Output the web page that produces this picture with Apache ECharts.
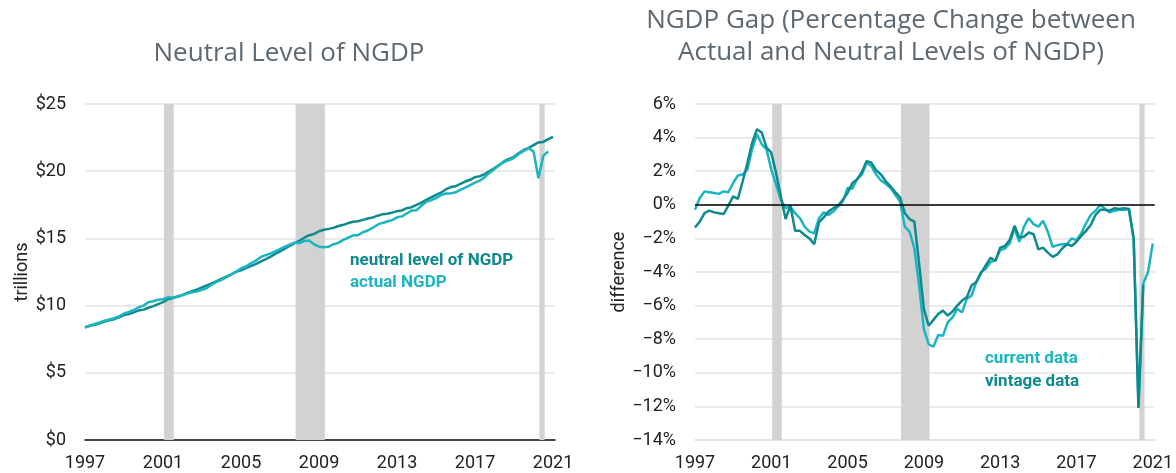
<!DOCTYPE html>
<html><head><meta charset="utf-8">
<script src="https://cdn.jsdelivr.net/npm/echarts@6/dist/echarts.min.js"></script>
<style>html,body{margin:0;padding:0;background:#fff}#c{width:1176px;height:473px}</style>
</head><body><div id="c"></div>
<script>
// ---- data (quarterly, first point = 1997 Q1) ----
const startYear = 1997;
const xMin = 1997, xMax = 2021.1, xStep = 4;
const recessions = [[2001.05, 2001.55], [2007.8, 2009.3], [2020.3, 2020.57]];

// Neutral level of NGDP, $ trillions (1997Q1 - 2021Q1)
const neutralLevel = [
  8.39, 8.49, 8.57, 8.68,  8.81, 8.91, 8.99, 9.13,  9.29, 9.37, 9.50, 9.64,
  9.70, 9.84, 9.96, 10.11,  10.26, 10.47, 10.57, 10.68,  10.79, 10.95, 11.08, 11.21,
  11.35, 11.51, 11.66, 11.82,  11.99, 12.16, 12.32, 12.51,  12.63, 12.79, 12.94, 13.09,
  13.27, 13.44, 13.63, 13.84,  14.04, 14.24, 14.45, 14.65,  14.84, 15.05, 15.24, 15.33,
  15.53, 15.64, 15.71, 15.79,  15.92, 16.01, 16.14, 16.24,  16.28, 16.38, 16.48, 16.55,
  16.69, 16.79, 16.83, 16.92,  17.03, 17.08, 17.25, 17.32,  17.49, 17.66, 17.86, 18.05,
  18.24, 18.40, 18.64, 18.82,  18.88, 19.06, 19.23, 19.36,  19.56, 19.63, 19.78, 20.01,
  20.23, 20.47, 20.74, 20.91,  21.07, 21.35, 21.58, 21.74,  21.94, 22.14, 22.18, 22.38,
  22.56
];
// Actual NGDP, $ trillions (1997Q1 - 2020Q4)
const actualNGDP = [
  8.36, 8.52, 8.64, 8.74,  8.87, 8.97, 9.06, 9.20,  9.41, 9.53, 9.67, 9.88,
  10.00, 10.25, 10.32, 10.44,  10.47, 10.60, 10.60, 10.66,  10.78, 10.89, 10.99, 11.06,
  11.17, 11.31, 11.57, 11.77,  11.92, 12.11, 12.31, 12.53,  12.76, 12.91, 13.14, 13.33,
  13.60, 13.75, 13.87, 14.04,  14.21, 14.38, 14.54, 14.68,  14.65, 14.81, 14.84, 14.55,
  14.38, 14.34, 14.38, 14.57,  14.68, 14.89, 15.06, 15.23,  15.24, 15.46, 15.59, 15.79,
  16.02, 16.15, 16.26, 16.36,  16.57, 16.64, 16.85, 17.08,  17.10, 17.43, 17.72, 17.84,
  18.00, 18.22, 18.34, 18.35,  18.43, 18.61, 18.78, 18.97,  19.15, 19.30, 19.56, 19.89,
  20.16, 20.47, 20.69, 20.82,  21.00, 21.29, 21.51, 21.69,  21.48, 19.48, 21.14, 21.48
];
// NGDP gap, % (current data, 1997Q1 - 2021Q1)
const currentGap = [
  -0.3, 0.4, 0.8, 0.75,  0.7, 0.65, 0.8, 0.75,  1.3, 1.75, 1.8, 2.1,
  3.35, 4.2, 3.6, 3.3,  2.1, 1.2, 0.3, -0.2,  -0.1, -0.5, -0.8, -1.3,
  -1.6, -1.7, -0.8, -0.45,  -0.6, -0.4, -0.1, 0.2,  1.0, 0.95, 1.55, 1.8,
  2.5, 2.3, 1.8, 1.45,  1.25, 1.0, 0.6, 0.2,  -1.3, -1.6, -2.6, -4.8,
  -7.4, -8.3, -8.45, -7.75,  -7.8, -7.0, -6.7, -6.2,  -6.4, -5.6, -5.4, -4.6,
  -4.0, -3.8, -3.4, -3.3,  -2.7, -2.6, -2.3, -1.4,  -2.2, -1.3, -0.8, -1.15,
  -1.3, -0.95, -1.6, -2.5,  -2.4, -2.35, -2.35, -2.0,  -2.1, -1.7, -1.1, -0.6,
  -0.35, 0.0, -0.25, -0.45,  -0.35, -0.3, -0.3, -0.25,  -2.1, -12.0, -4.7, -4.0,
  -2.3
];
// NGDP gap, % (vintage data, 1997Q1 - 2020Q3)
const vintageGap = [
  -1.35, -1.0, -0.5, -0.35,  -0.45, -0.5, -0.55, -0.05,  0.5, 0.35, 1.4, 2.5,
  3.7, 4.5, 4.3, 3.4,  3.1, 1.9, 0.5, -0.85,  -0.05, -1.55, -1.55, -1.8,
  -2.0, -2.35, -1.05, -0.75,  -0.4, -0.2, -0.05, 0.3,  0.7, 1.3, 1.5, 1.95,
  2.6, 2.5, 2.05, 1.8,  1.4, 1.1, 0.75, 0.45,  -0.5, -0.85, -1.0, -3.5,
  -6.2, -7.2, -6.85, -6.5,  -6.3, -6.6, -6.35, -6.0,  -5.7, -5.5, -4.8, -4.6,
  -4.05, -3.6, -3.15, -3.35,  -2.55, -2.45, -2.1, -1.25,  -1.95, -1.9, -1.65, -1.75,
  -2.65, -2.55, -2.85, -3.1,  -2.95, -2.6, -2.35, -2.45,  -2.2, -1.85, -1.55, -1.2,
  -0.6, -0.3, -0.3, -0.35,  -0.2, -0.25, -0.2, -0.25,  -2.0, -12.1, -4.75
];

// ---- chart ----
const DARK = '#0e8a8e', LIGHT = '#1bb5c1', BAR = '#d2d2d2', GRID = '#e3e3e3';
const LABEL_FONT = "'Roboto',sans-serif";
const TITLE_FONT = "'Open Sans','Lato',sans-serif";
const toPairs = arr => arr.map((v, i) => [startYear + i / 4, v]);
const areas = recessions.map(r => [{ xAxis: r[0] }, { xAxis: r[1] }]);

function xAxisFor(gi, lineColor) {
  return {
    type: 'value', gridIndex: gi, min: xMin, max: xMax, interval: xStep,
    axisLine: { show: true, onZero: false, lineStyle: { color: lineColor, width: 1.5 } },
    axisTick: { show: false }, splitLine: { show: false },
    axisLabel: { fontSize: 18, color: '#222', margin: 14, fontFamily: LABEL_FONT,
      showMaxLabel: false, formatter: v => Number.isInteger(v) ? String(v) : '' }
  };
}
function yAxisFor(gi, min, max, step, fmt, name, gap) {
  return {
    type: 'value', gridIndex: gi, min, max, interval: step,
    axisLine: { show: false }, axisTick: { show: false },
    splitLine: { show: true, lineStyle: { color: GRID, width: 1.5 } },
    axisLabel: { fontSize: 18, color: '#222', margin: 19, fontFamily: LABEL_FONT, formatter: fmt },
    name, nameLocation: 'middle', nameGap: gap,
    nameTextStyle: { fontSize: 18, color: '#222', fontFamily: LABEL_FONT }
  };
}
const lineBase = { type: 'line', showSymbol: false, symbol: 'none', smooth: false };

const chart = echarts.init(document.getElementById('c'));
chart.setOption({
  animation: false,
  backgroundColor: '#fff',
  grid: [
    { left: 85, right: 621, top: 104, bottom: 33 },
    { left: 695, right: 21, top: 104, bottom: 33 }
  ],
  xAxis: [xAxisFor(0, '#111'), xAxisFor(1, GRID)],
  yAxis: [
    yAxisFor(0, 0, 25, 5, v => '$' + v, 'trillions', 54),
    yAxisFor(1, -14, 6, 2, v => (v < 0 ? '\u2212' + (-v) : v) + '%', 'difference', 66)
  ],
  series: [
    Object.assign({}, lineBase, {
      name: 'neutral level of NGDP', xAxisIndex: 0, yAxisIndex: 0,
      data: toPairs(neutralLevel), lineStyle: { color: DARK, width: 2.5 }, itemStyle: { color: DARK }, z: 3,
      markArea: { silent: true, itemStyle: { color: BAR }, data: areas }
    }),
    Object.assign({}, lineBase, {
      name: 'actual NGDP', xAxisIndex: 0, yAxisIndex: 0,
      data: toPairs(actualNGDP), lineStyle: { color: LIGHT, width: 2.5 }, itemStyle: { color: LIGHT }, z: 4
    }),
    Object.assign({}, lineBase, {
      name: 'current data', xAxisIndex: 1, yAxisIndex: 1,
      data: toPairs(currentGap), lineStyle: { color: LIGHT, width: 2.5 }, itemStyle: { color: LIGHT }, z: 3,
      markArea: { silent: true, itemStyle: { color: BAR }, data: areas },
      markLine: { silent: true, symbol: 'none', label: { show: false },
        lineStyle: { color: '#000', width: 1.5, type: 'solid' }, data: [{ yAxis: 0 }] }
    }),
    Object.assign({}, lineBase, {
      name: 'vintage data', xAxisIndex: 1, yAxisIndex: 1,
      data: toPairs(vintageGap), lineStyle: { color: DARK, width: 2.5 }, itemStyle: { color: DARK }, z: 4
    })
  ],
  graphic: [
    { type: 'text', x: 289, y: 54, style: { text: 'Neutral Level of NGDP', align: 'center', verticalAlign: 'middle',
      font: '26px ' + TITLE_FONT, fill: '#5d6870' } },
    { type: 'text', x: 891, y: 37, style: { text: 'NGDP Gap (Percentage Change between\nActual and Neutral Levels of NGDP)',
      align: 'center', verticalAlign: 'middle', lineHeight: 32, font: '26px ' + TITLE_FONT, fill: '#5d6870' } },
    { type: 'text', x: 350, y: 261, style: { text: 'neutral level of NGDP', verticalAlign: 'middle',
      font: 'bold 17px ' + LABEL_FONT, fill: DARK } },
    { type: 'text', x: 350, y: 283, style: { text: 'actual NGDP', verticalAlign: 'middle',
      font: 'bold 17px ' + LABEL_FONT, fill: LIGHT } },
    { type: 'text', x: 985, y: 359, style: { text: 'current data', verticalAlign: 'middle',
      font: 'bold 17px ' + LABEL_FONT, fill: LIGHT } },
    { type: 'text', x: 985, y: 382, style: { text: 'vintage data', verticalAlign: 'middle',
      font: 'bold 17px ' + LABEL_FONT, fill: DARK } }
  ]
});
</script></body></html>
